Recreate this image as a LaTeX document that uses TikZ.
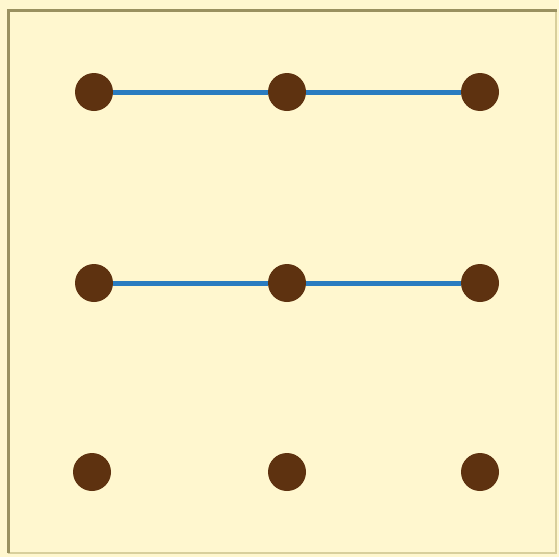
\documentclass[tikz,border=0pt]{standalone}
\begin{document}
\begin{tikzpicture}[x=1pt,y=-1pt,
  dotnode/.style={circle,fill=dotbrown,inner sep=0pt,minimum size=38pt},
  link/.style={draw=linkblue,line width=5pt}]
\definecolor{bg}{HTML}{FFF7CF}
\definecolor{frame}{HTML}{9A9160}
\definecolor{framelight}{HTML}{D8CF9C}
\definecolor{dotbrown}{HTML}{5E3210}
\definecolor{linkblue}{HTML}{2A7CC0}
\useasboundingbox (0,0) rectangle (559,557);
\fill[bg] (0,0) rectangle (559,557);
\draw[framelight,line width=2pt] (556,10) -- (556,553) -- (8,553);
\draw[frame,line width=3pt] (8,553) -- (8,10) -- (557,10);
\node[dotnode] (a1) at (94,92) {};
\node[dotnode] (a2) at (287,92) {};
\node[dotnode] (a3) at (480,92) {};
\node[dotnode] (b1) at (94,283) {};
\node[dotnode] (b2) at (287,283) {};
\node[dotnode] (b3) at (480,283) {};
\node[dotnode] (c1) at (92,472) {};
\node[dotnode] (c2) at (287,472) {};
\node[dotnode] (c3) at (480,472) {};
\draw[link] (a1) -- (a2);
\draw[link] (a2) -- (a3);
\draw[link] (b1) -- (b2);
\draw[link] (b2) -- (b3);
\end{tikzpicture}
\end{document}
